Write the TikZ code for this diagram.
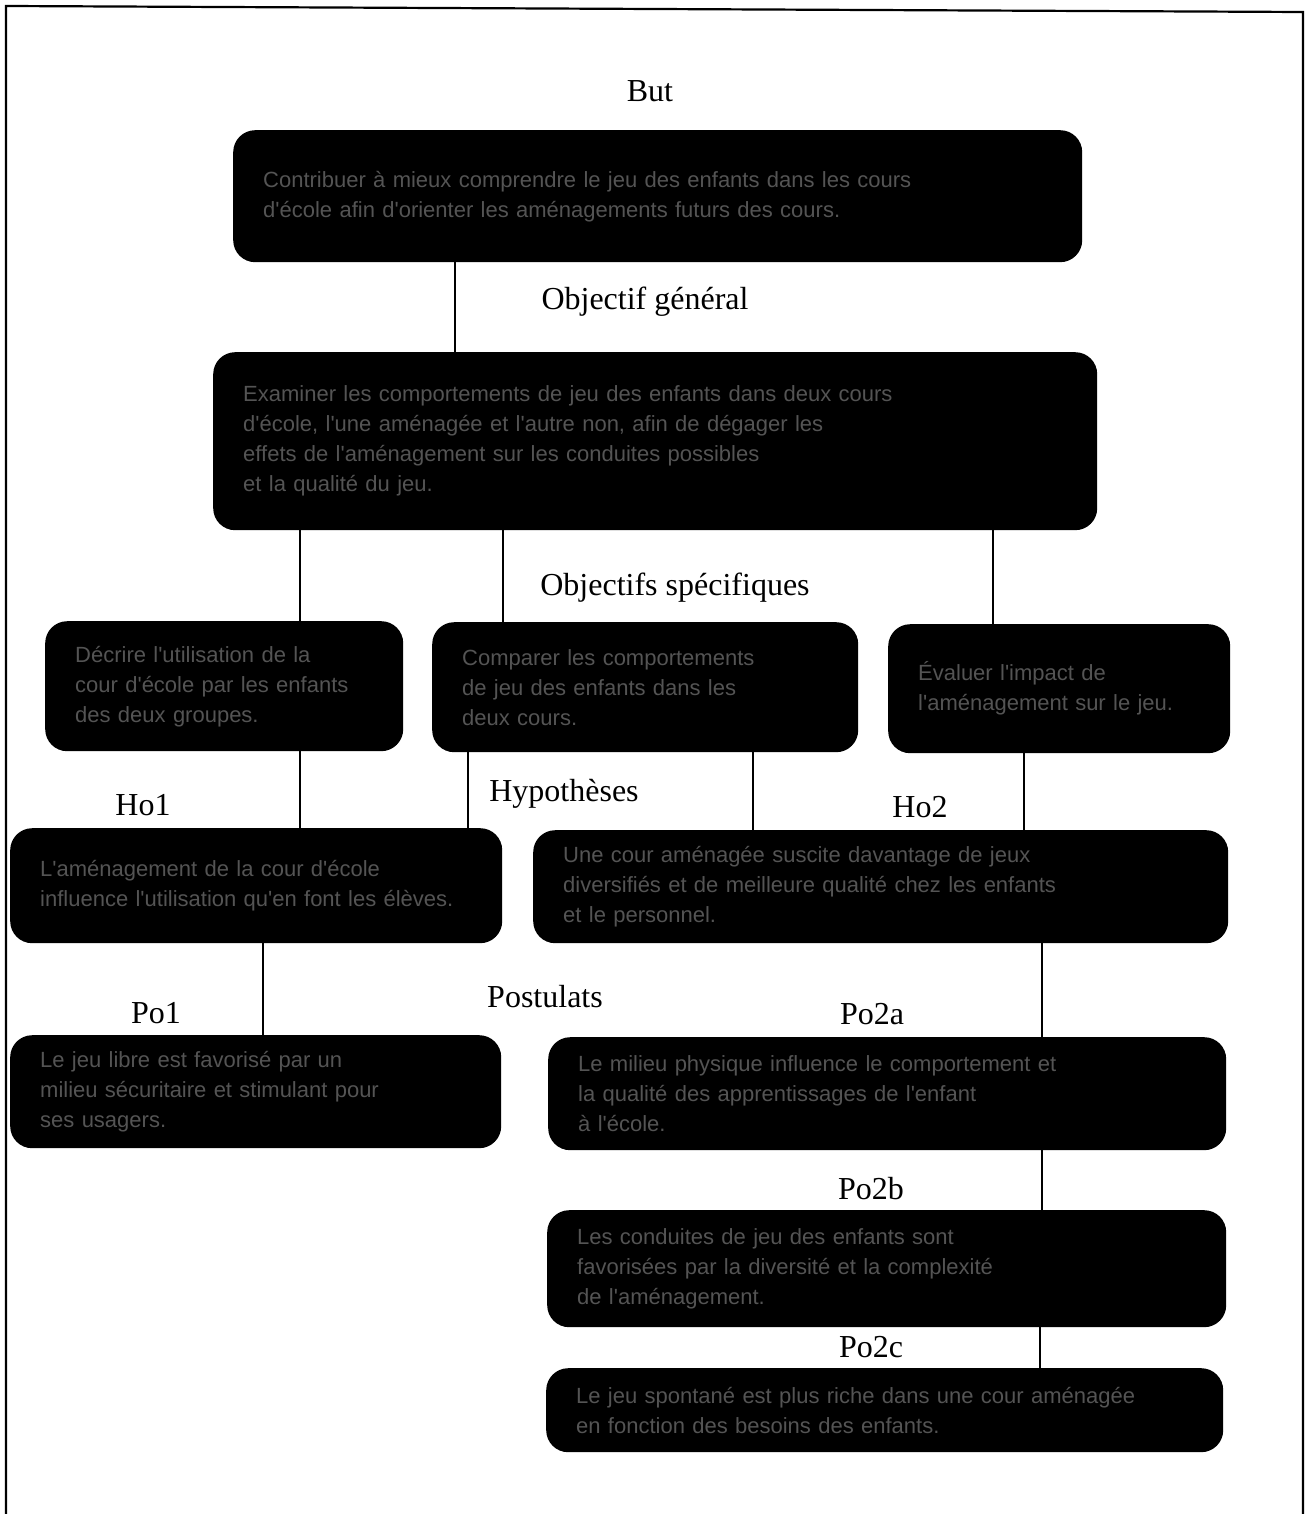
\documentclass[tikz,border=0pt]{standalone}
\usepackage{fontspec}
\setmainfont{Liberation Serif}
\newfontfamily\boxfont{Liberation Sans}
\definecolor{boxtxt}{gray}{0.33}
\tikzset{
  blk/.style={fill=black, rounded corners=22pt, anchor=north west, inner xsep=30pt, inner ysep=0pt,
    align=left, text=boxtxt, font=\boxfont\fontsize{22pt}{30pt}\selectfont},
  lbl/.style={anchor=base, inner sep=0pt, font=\fontsize{32pt}{38pt}\selectfont},
  conn/.style={line width=2pt}
}
\begin{document}
\begin{tikzpicture}[x=1pt,y=-1pt]
\useasboundingbox (0,0) rectangle (1309,1514);
\draw[line width=2.2pt] (6,1514) -- (6,6) -- (1303,12) -- (1303,1514);

% boxes
\node[blk, minimum height=132pt, text width=789pt] (but) at (233,130)
  {Contribuer à mieux comprendre le jeu des enfants dans les cours\\d'école afin d'orienter les aménagements futurs des cours.};
\node[blk, minimum height=178pt, text width=824pt] (og) at (213,352)
  {Examiner les comportements de jeu des enfants dans deux cours\\d'école, l'une aménagée et l'autre non, afin de dégager les\\effets de l'aménagement sur les conduites possibles\\et la qualité du jeu.};
\node[blk, minimum height=130pt, text width=298pt] (s1) at (45,621)
  {Décrire l'utilisation de la\\cour d'école par les enfants\\des deux groupes.};
\node[blk, minimum height=130pt, text width=366pt] (s2) at (432,622)
  {Comparer les comportements\\de jeu des enfants dans les\\deux cours.};
\node[blk, minimum height=129pt, text width=282pt] (s3) at (888,624)
  {Évaluer l'impact de\\l'aménagement sur le jeu.};
\node[blk, minimum height=115pt, text width=432pt] (ho1) at (10,828)
  {L'aménagement de la cour d'école\\influence l'utilisation qu'en font les élèves.};
\node[blk, minimum height=113pt, text width=635pt] (ho2) at (533,830)
  {Une cour aménagée suscite davantage de jeux\\diversifiés et de meilleure qualité chez les enfants\\et le personnel.};
\node[blk, minimum height=113pt, text width=431pt] (po1) at (10,1035)
  {Le jeu libre est favorisé par un\\milieu sécuritaire et stimulant pour\\ses usagers.};
\node[blk, minimum height=113pt, text width=618pt] (po2a) at (548,1037)
  {Le milieu physique influence le comportement et\\la qualité des apprentissages de l'enfant\\à l'école.};
\node[blk, minimum height=117pt, text width=619pt] (po2b) at (547,1210)
  {Les conduites de jeu des enfants sont\\favorisées par la diversité et la complexité\\de l'aménagement.};
\node[blk, minimum height=84pt, text width=617pt] (po2c) at (546,1368)
  {Le jeu spontané est plus riche dans une cour aménagée\\en fonction des besoins des enfants.};

% labels
\node[lbl] (lbut) at (650,102) {But};
\node[lbl] (log) at (645,309) {Objectif général};
\node[lbl] (los) at (675,595) {Objectifs spécifiques};
\node[lbl] (lho1) at (143,815) {Ho1};
\node[lbl] (lhyp) at (564,801) {Hypothèses};
\node[lbl] (lho2) at (920,817) {Ho2};
\node[lbl] (lpo1) at (156,1023) {Po1};
\node[lbl] (lpos) at (545,1007) {Postulats};
\node[lbl] (lpo2a) at (872,1024) {Po2a};
\node[lbl] (lpo2b) at (871,1199) {Po2b};
\node[lbl] (lpo2c) at (871,1357) {Po2c};

% connectors
\draw[conn] (but.south -| 455,0) -- (og.north -| 455,0);
\draw[conn] (og.south -| 300,0) -- (s1.north -| 300,0);
\draw[conn] (og.south -| 503,0) -- (s2.north -| 503,0);
\draw[conn] (og.south -| 993,0) -- (s3.north -| 993,0);
\draw[conn] (s1.south -| 300,0) -- (ho1.north -| 300,0);
\draw[conn] (s2.south -| 468,0) -- (ho1.north -| 468,0);
\draw[conn] (s2.south -| 753,0) -- (ho2.north -| 753,0);
\draw[conn] (s3.south -| 1024,0) -- (ho2.north -| 1024,0);
\draw[conn] (ho1.south -| 263,0) -- (po1.north -| 263,0);
\draw[conn] (ho2.south -| 1042,0) -- (po2a.north -| 1042,0);
\draw[conn] (po2a.south -| 1042,0) -- (po2b.north -| 1042,0);
\draw[conn] (po2b.south -| 1040,0) -- (po2c.north -| 1040,0);
\end{tikzpicture}
\end{document}
